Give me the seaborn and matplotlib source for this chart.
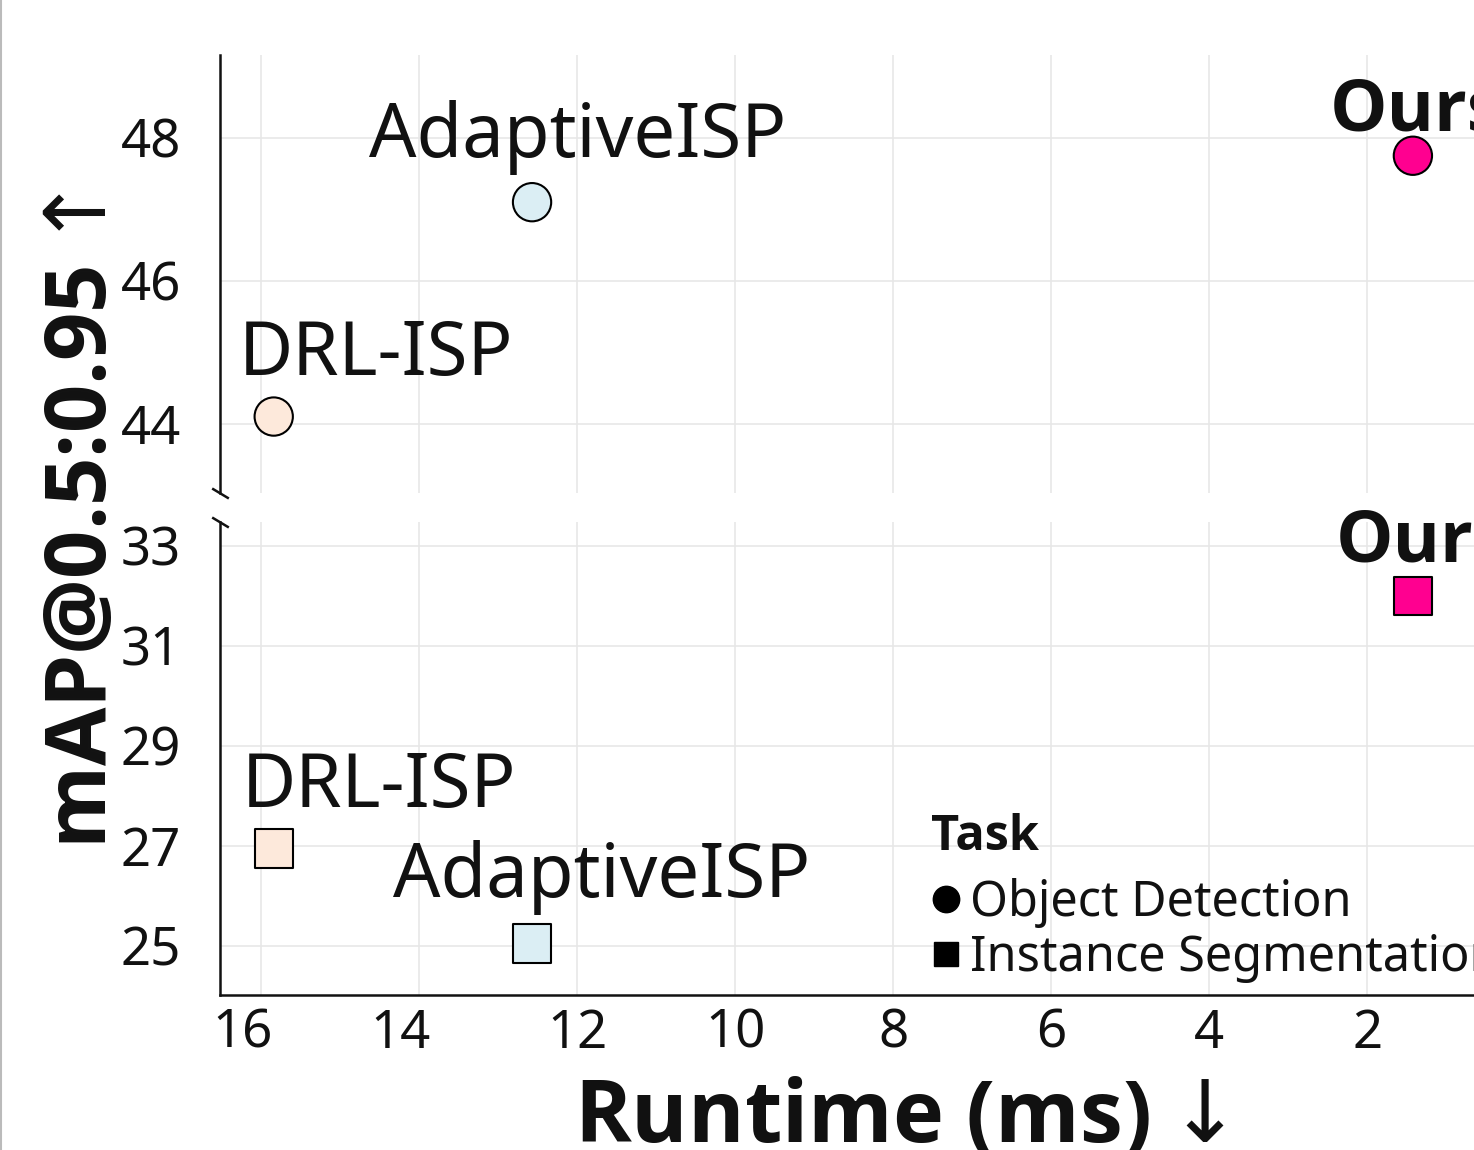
import numpy as np
import pandas as pd
import matplotlib
matplotlib.use("Agg")
import matplotlib.pyplot as plt
import seaborn as sns
from matplotlib.lines import Line2D
from matplotlib.transforms import ScaledTranslation

# ---------------- data ----------------
methods = ["DRL-ISP", "AdaptiveISP", "Ours"]
det_runtime = [15.84, 12.57, 1.42]
det_map = [44.1, 47.1, 47.75]
seg_runtime = [15.84, 12.57, 1.42]
seg_map = [26.95, 25.05, 32.0]
tasks = ["Object Detection", "Instance Segmentation"]
x_ticks = [16, 14, 12, 10, 8, 6, 4, 2]
top_yticks = [44, 46, 48]
bottom_yticks = [25, 27, 29, 31, 33]

colors = {"DRL-ISP": "#FDE9DB", "AdaptiveISP": "#DBEEF4", "Ours": "#FF0090"}

df = pd.DataFrame({
    "Method": methods * 2,
    "Runtime": det_runtime + seg_runtime,
    "mAP": det_map + seg_map,
    "Task": [tasks[0]] * 3 + [tasks[1]] * 3,
})

# ---------------- style ----------------
sns.set_theme(style="white")
plt.rcParams["font.family"] = ["Noto Sans", "DejaVu Sans"]
plt.rcParams["mathtext.fontset"] = "dejavusans"
BOLD = ["Open Sans", "DejaVu Sans"]
TXT = "#111111"

W, H = 1474, 1150
fig = plt.figure(figsize=(W / 100, H / 100), dpi=100)
ax_top = fig.add_axes([220 / W, 1 - 493 / H, 1358 / W, 438 / H])
ax_bot = fig.add_axes([220 / W, 1 - 995 / H, 1358 / W, 473 / H])

px = 72 / 100  # pixel -> point

for ax, task, marker in [(ax_top, tasks[0], "o"), (ax_bot, tasks[1], "s")]:
    sub = df[df["Task"] == task]
    sns.scatterplot(data=sub, x="Runtime", y="mAP", hue="Method", palette=colors,
                    marker=marker, s=760, edgecolor="black", linewidth=1.5,
                    legend=False, ax=ax, zorder=3, clip_on=False)
    ax.set_xlim(16.52, -0.67)
    ax.set_xticks(x_ticks)
    ax.grid(True, color="#E6E6E6", linewidth=1.1)
    ax.set_axisbelow(True)
    ax.set_xlabel("")
    ax.set_ylabel("")
    for s in ["top", "right"]:
        ax.spines[s].set_visible(False)
    ax.spines["left"].set_color(TXT)
    ax.spines["left"].set_linewidth(1.8)
    ax.tick_params(axis="both", length=0, labelsize=38, labelcolor=TXT)
    ax.tick_params(axis="y", pad=28)
    ax.tick_params(axis="x", pad=9)

ax_top.set_ylim(43.03, 49.16)
ax_top.set_yticks(top_yticks)
ax_top.spines["bottom"].set_visible(False)
ax_top.tick_params(axis="x", labelbottom=False)

ax_bot.set_ylim(24.02, 33.48)
ax_bot.set_yticks(bottom_yticks)
ax_bot.spines["bottom"].set_color(TXT)
ax_bot.spines["bottom"].set_linewidth(1.8)
ax_bot.set_xticklabels([str(t) for t in x_ticks])

# slight shift of the first two x tick labels as in the reference
for t, lab in zip(x_ticks, ax_bot.get_xticklabels()):
    if t in (16, 14):
        lab.set_transform(lab.get_transform() +
                          ScaledTranslation(-19 / 100, 0, fig.dpi_scale_trans))

# break marks
kw = dict(marker=[(-1, 0.6), (1, -0.6)], markersize=12, linestyle="none",
          color=TXT, mec=TXT, mew=1.8, clip_on=False)
ax_top.plot([0], [0], transform=ax_top.transAxes, **kw)
ax_bot.plot([0], [1], transform=ax_bot.transAxes, **kw)

# point labels (offsets in pixels: dx to text left edge, dy to baseline)
det_offsets = {"DRL-ISP": (-35, 42), "AdaptiveISP": (-163, 45), "Ours": (-83, 25)}
seg_offsets = {"DRL-ISP": (-32, 41), "AdaptiveISP": (-139, 46), "Ours": (-77, 34)}
for ax, xs, ys, offs in [(ax_top, det_runtime, det_map, det_offsets),
                         (ax_bot, seg_runtime, seg_map, seg_offsets)]:
    for m, x, y in zip(methods, xs, ys):
        dx, dy = offs[m]
        bold = m == "Ours"
        ax.annotate(m, xy=(x, y), xytext=(dx * px, dy * px), textcoords="offset points",
                    ha="left", va="baseline", fontsize=52 if bold else 53.5,
                    fontweight="bold" if bold else "normal",
                    family=BOLD if bold else ["Noto Sans", "DejaVu Sans"], color=TXT,
                    annotation_clip=False, zorder=4)

# axis labels
fig.text(899 / W, 1 - 1142 / H, r"Runtime (ms)$\downarrow$", ha="center", va="baseline",
         fontsize=62, fontweight="bold", family=BOLD, color=TXT)
fig.text(84 / W, 1 - 520 / H, r"mAP@0.5:0.95$\uparrow$", ha="center", va="center",
         rotation=90, fontsize=61, fontweight="bold", family=BOLD, color=TXT)

# legend
handles = [Line2D([], [], marker="o", linestyle="", color="black", markersize=19),
           Line2D([], [], marker="s", linestyle="", color="black", markersize=17)]
leg = fig.legend(handles, tasks, loc="upper left", bbox_to_anchor=(931 / W, 1 - 878 / H),
                 frameon=False, fontsize=35, handletextpad=0.2, handlelength=0.6,
                 borderpad=0, borderaxespad=0, labelspacing=0.1, alignment="left")
for t in leg.get_texts():
    t.set_color(TXT)
fig.text(931 / W, 1 - 850 / H, "Task", ha="left", va="baseline", fontsize=35,
         fontweight="bold", family=BOLD, color=TXT)

# thin gray frame line at the left edge
fig.add_artist(Line2D([0.6 / W, 0.6 / W], [0, 1], transform=fig.transFigure,
                      color="#BBBBBB", linewidth=1.5))

fig.savefig("out.png", dpi=100)
